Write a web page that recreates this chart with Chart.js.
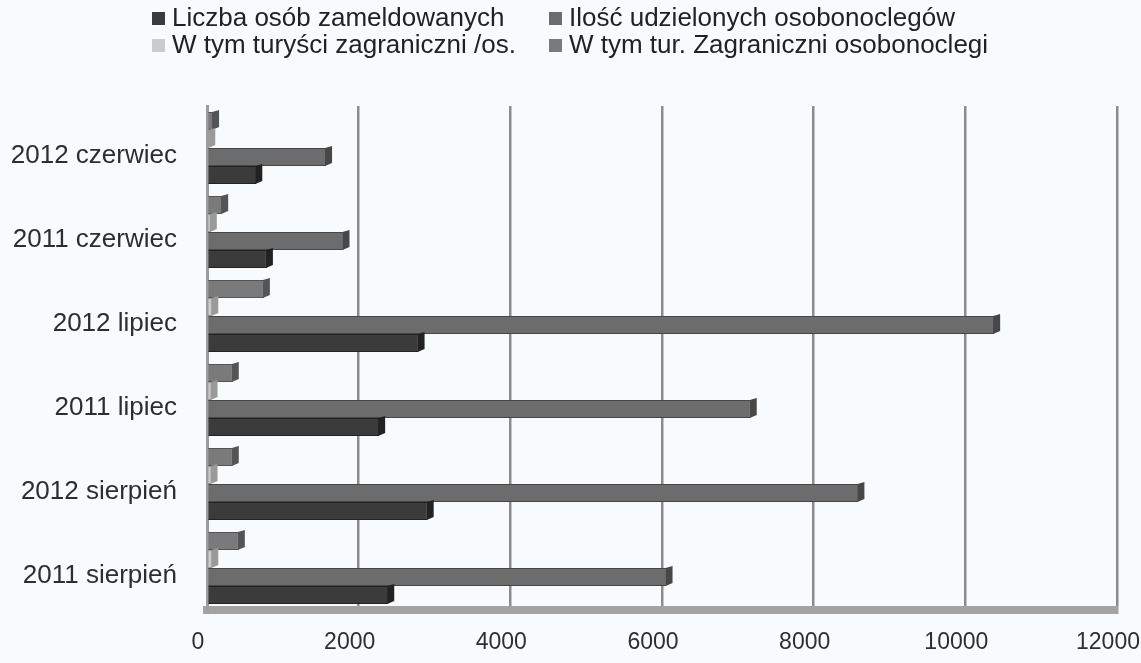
<!DOCTYPE html>
<html>
<head>
<meta charset="utf-8">
<script src="https://cdn.jsdelivr.net/npm/chart.js@4.4.1/dist/chart.umd.min.js"></script>
<style>
  html, body { margin: 0; padding: 0; background: #f8fbfd; overflow: hidden; }
  #wrap { position: relative; width: 1141px; height: 663px; }
  #legend { position: absolute; left: 0; top: 4px; width: 1141px; font-family: "Liberation Sans", Arial, sans-serif; font-size: 26px; color: #222; }
  .item { position: absolute; white-space: nowrap; line-height: 27px; }
  .box { display: inline-block; width: 13px; height: 13px; margin-right: 7px; vertical-align: 1px; }
  canvas { position: absolute; left: 0; top: 0; }
</style>
</head>
<body>
<div id="wrap">
  <canvas id="c" width="1141" height="663"></canvas>
  <div id="legend"></div>
</div>
<script>
// Categories listed bottom-to-top (the y axis is reversed, as in the original)
const categories = ["2011 sierpień", "2012 sierpień", "2011 lipiec", "2012 lipiec", "2011 czerwiec", "2012 czerwiec"];
const seriesNames = ["Liczba osób zameldowanych", "Ilość udzielonych osobonoclegów", "W tym turyści zagraniczni /os.", "W tym tur. Zagraniczni osobonoclegi"];
const liczbaOsob = [2390, 2910, 2270, 2790, 790, 650];
const iloscNoclegow = [6060, 8590, 7170, 10380, 1800, 1570];
const turysciZagr = [70, 60, 60, 70, 50, 30];
const turZagrNoclegi = [420, 340, 340, 750, 200, 80];
const xTicks = [0, 2000, 4000, 6000, 8000, 10000, 12000];
const seriesColors = ["#3b3b3b", "#6c6c6c", "#cbcbcb", "#7a7a7a"];
const seriesEdge = ["#222222", "#474747", "#9a9a9a", "#545454"];

const seriesValues = [liczbaOsob, iloscNoclegow, turysciZagr, turZagrNoclegi];
// first series sits at the bottom of each group, so datasets are added last-to-first
const drawOrder = [3, 2, 1, 0];

const depthPlugin = {
  id: 'depth',
  afterDatasetsDraw(chart) {
    const ctx = chart.ctx;
    chart.data.datasets.forEach((ds, i) => {
      const s = ds.seriesIndex;
      const meta = chart.getDatasetMeta(i);
      meta.data.forEach(bar => {
        const p = bar.getProps(['x', 'y', 'base', 'height'], true);
        const top = p.y - p.height / 2, bot = p.y + p.height / 2;
        const d = 6;
        ctx.save();
        ctx.fillStyle = seriesEdge[s];
        ctx.beginPath();
        ctx.moveTo(p.x - 1, top);
        ctx.lineTo(p.x + d, top - 2);
        ctx.lineTo(p.x + d, bot - 3);
        ctx.lineTo(p.x - 1, bot);
        ctx.closePath();
        ctx.fill();
        ctx.restore();
      });
    });
  }
};

const ctx = document.getElementById('c').getContext('2d');
const chart = new Chart(ctx, {
  type: 'bar',
  data: {
    labels: categories,
    datasets: drawOrder.map(s => ({
      label: seriesNames[s],
      seriesIndex: s,
      data: seriesValues[s],
      backgroundColor: seriesColors[s],
      borderColor: seriesEdge[s],
      borderWidth: 1,
      categoryPercentage: 0.86,
      barPercentage: 1.0
    }))
  },
  options: {
    indexAxis: 'y',
    responsive: false,
    animation: false,
    layout: { padding: { top: 106, right: 24, left: 0, bottom: 8 } },
    plugins: { legend: { display: false }, tooltip: { enabled: false } },
    scales: {
      x: {
        min: 0, max: 12000,
        afterBuildTicks(axis) { axis.ticks = xTicks.map(v => ({ value: v })); },
        afterFit(scale) { scale.paddingLeft = 0; scale.paddingRight = 0; scale.height = 45; },
        grid: { color: '#8c8c8c', lineWidth: 2.5, drawTicks: false },
        border: { color: '#a3a3a3', width: 8 },
        ticks: {
          color: '#2e2e2e', padding: 19, labelOffset: -9,
          font: { family: '"Liberation Sans", Arial, sans-serif', size: 23 },
          callback: v => String(v)
        }
      },
      y: {
        reverse: true,
        afterFit(scale) { scale.width = 207; },
        grid: { display: false, drawTicks: false },
        border: { color: '#9c9c9c', width: 3 },
        ticks: { color: '#2e2e2e', padding: 30, labelOffset: 8, font: { family: '"Liberation Sans", Arial, sans-serif', size: 26 } }
      }
    }
  },
  plugins: [depthPlugin]
});

// Legend in two rows / two columns as in the original
const legendPos = [[152, 4], [549, 4], [152, 31], [549, 31]];
const leg = document.getElementById('legend');
seriesNames.forEach((n, i) => {
  const d = document.createElement('div');
  d.className = 'item';
  d.style.left = legendPos[i][0] + 'px';
  d.style.top = (legendPos[i][1] - 4) + 'px';
  d.innerHTML = '<span class="box" style="background:' + seriesColors[i] + '"></span>' + n;
  leg.appendChild(d);
});
</script>
</body>
</html>
